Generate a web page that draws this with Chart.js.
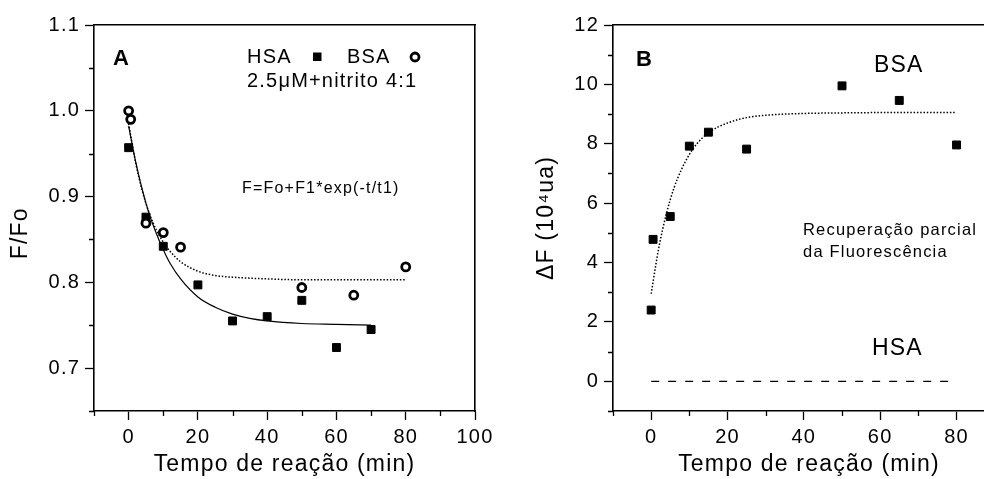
<!DOCTYPE html>
<html><head><meta charset="utf-8">
<script src="https://cdn.jsdelivr.net/npm/chart.js@4/dist/chart.umd.min.js"></script>
<style>
html,body{margin:0;padding:0;background:#fff;overflow:hidden;width:984px;height:479px;position:relative;}
canvas{position:absolute;left:0;top:0;}
</style></head><body>
<canvas id="cA" width="984" height="479"></canvas>
<canvas id="cB" width="1040" height="479"></canvas>
<script>
// ---------- Panel A : F/Fo vs reaction time ----------
const timeHSA_A  = [0, 5, 10, 20, 30, 40, 50, 60, 70];
const ratioHSA_A = [0.957, 0.876, 0.842, 0.797, 0.755, 0.760, 0.779, 0.724, 0.745];
const timeBSA_A  = [0, 0.6, 5, 10, 15, 50, 65, 80];
const ratioBSA_A = [1.000, 0.990, 0.869, 0.858, 0.841, 0.794, 0.785, 0.818];
const fitTimeHSA_A = [0, 2, 4, 6, 8, 10, 12, 15, 20, 25, 30, 35, 40, 50, 60, 70];
const fitHSA_A     = [0.982, 0.941, 0.907, 0.879, 0.857, 0.838, 0.822, 0.804, 0.783, 0.771, 0.763, 0.758, 0.755, 0.752, 0.751, 0.750];
const fitTimeBSA_A = [0, 2, 4, 6, 8, 10, 12, 15, 20, 25, 30, 40, 50, 60, 70, 80];
const fitBSA_A     = [0.985, 0.940, 0.906, 0.880, 0.861, 0.847, 0.836, 0.824, 0.813, 0.808, 0.806, 0.804, 0.803, 0.803, 0.803, 0.803];
const xMajorA = [0, 20, 40, 60, 80, 100];
const xMinorA = [-10, 10, 30, 50, 70, 90];
const yMajorA = [0.7, 0.8, 0.9, 1.0, 1.1];
const yMinorA = [0.65, 0.75, 0.85, 0.95, 1.05];

// ---------- Panel B : ΔF vs reaction time ----------
const timeBSA_B  = [0, 0.5, 5, 10, 15, 25, 50, 65, 80];
const deltaBSA_B = [2.40, 4.78, 5.55, 7.92, 8.39, 7.82, 9.95, 9.46, 7.96];
const fitTimeBSA_B = [0, 2, 4, 6, 8, 10, 12, 15, 20, 25, 30, 40, 50, 60, 70, 80];
const fitBSA_B     = [2.95, 4.50, 5.65, 6.52, 7.15, 7.64, 8.00, 8.37, 8.70, 8.88, 8.96, 9.02, 9.04, 9.05, 9.05, 9.05];
const timeHSA_B  = [0, 80];
const deltaHSA_B = [0, 0];
const xMajorB = [0, 20, 40, 60, 80];
const xMinorB = [-10, 10, 30, 50, 70, 90];
const yMajorB = [0, 2, 4, 6, 8, 10, 12];
const yMinorB = [-1, 1, 3, 5, 7, 9, 11];

// ---------- helpers ----------
const FONT = "'Liberation Sans', Arial, Helvetica, sans-serif";
Chart.defaults.font.family = FONT;
Chart.defaults.color = '#000';
const MAJOR_LEN = 9, MINOR_LEN = 5, SPACING = '1.2px';

const pts = (xs, ys) => xs.map((x, i) => ({x: x, y: ys[i]}));
const near = (list, v) => list.some(m => Math.abs(m - v) < 1e-9);

function mainAxis(c) {
  const all = c.major.concat(c.minor).filter(v => v >= c.min - 1e-9 && v <= c.max + 1e-9).sort((a, b) => a - b);
  const horiz = c.position === 'bottom';
  return {
    type: 'linear', position: c.position, min: c.min, max: c.max,
    afterBuildTicks: ax => { ax.ticks = all.map(v => ({value: v, isMajor: near(c.major, v)})); },
    afterFit: ax => { if (horiz) ax.height = c.size; else ax.width = c.size; },
    grid: {display: true, drawOnChartArea: false, drawTicks: true, tickLength: MAJOR_LEN, tickWidth: 1.3,
      tickColor: ctx => (ctx.tick && ctx.tick.isMajor) ? '#000' : 'rgba(0,0,0,0)', color: '#000', lineWidth: 1},
    border: {display: true, color: '#000', width: 1.6},
    ticks: {autoSkip: false, maxRotation: 0, minRotation: 0, padding: c.tickPad, color: '#000',
      font: {size: 20}, callback: v => near(c.major, v) ? c.fmt(v) : ''},
    title: {display: true, text: c.title, color: '#000', font: {size: 23}, padding: c.titlePad}
  };
}
function frameAxis(position, min, max) {
  const horiz = position === 'top' || position === 'bottom';
  return {
    type: 'linear', position: position, min: min, max: max, display: true,
    afterFit: ax => { if (horiz) ax.height = 0; else ax.width = 0; },
    ticks: {display: false},
    grid: {display: true, drawOnChartArea: false, drawTicks: false},
    border: {display: true, color: '#000', width: 1.6}
  };
}
const spacingPlugin = {id: 'spacing', beforeDraw(chart) { chart.ctx.letterSpacing = SPACING; }};
function minorTicks(xMinor, yMinor) {
  return {id: 'minorTicks', afterDraw(chart) {
    const {ctx, chartArea: a, scales: {x, y}} = chart;
    ctx.save(); ctx.strokeStyle = '#000'; ctx.lineWidth = 1.3; ctx.beginPath();
    xMinor.forEach(v => { if (v < x.min || v > x.max) return;
      const px = Math.round(x.getPixelForValue(v)) + 0.5; ctx.moveTo(px, a.bottom); ctx.lineTo(px, a.bottom + MINOR_LEN); });
    yMinor.forEach(v => { if (v < y.min || v > y.max) return;
      const py = Math.round(y.getPixelForValue(v)) + 0.5; ctx.moveTo(a.left, py); ctx.lineTo(a.left - MINOR_LEN, py); });
    ctx.stroke(); ctx.restore();
  }};
}
function txt(ctx, s, x, y, size, bold) {
  ctx.font = (bold ? 'bold ' : '') + size + 'px ' + FONT;
  ctx.fillText(s, x, y);
}

// ---------- annotations ----------
const annotA = {id: 'annotA', afterDraw(chart) {
  const {ctx, chartArea: a} = chart;
  ctx.save(); ctx.fillStyle = '#000'; ctx.strokeStyle = '#000'; ctx.letterSpacing = SPACING;
  ctx.textAlign = 'left'; ctx.textBaseline = 'alphabetic';
  txt(ctx, 'A', a.left + 19, a.top + 40, 22, true);
  txt(ctx, 'HSA', a.left + 153, a.top + 38, 20);
  ctx.fillRect(a.left + 219, a.top + 27.5, 8.5, 8.5);
  txt(ctx, 'BSA', a.left + 253, a.top + 38, 20);
  ctx.beginPath(); ctx.lineWidth = 2.8; ctx.arc(a.left + 321, a.top + 32, 4, 0, Math.PI * 2); ctx.stroke();
  txt(ctx, '2.5\u03BCM+nitrito 4:1', a.left + 153, a.top + 62, 20);
  txt(ctx, 'F=Fo+F1*exp(-t/t1)', a.left + 148, a.top + 168, 16);
  ctx.restore();
}};
const annotB = {id: 'annotB', afterDraw(chart) {
  const {ctx, chartArea: a} = chart;
  ctx.save(); ctx.fillStyle = '#000'; ctx.letterSpacing = SPACING;
  ctx.textAlign = 'left'; ctx.textBaseline = 'alphabetic';
  txt(ctx, 'B', a.left + 23, a.top + 41, 22, true);
  txt(ctx, 'BSA', a.left + 261, a.top + 47, 23);
  txt(ctx, 'Recupera\u00E7\u00E3o parcial', a.left + 190, a.top + 210, 16.5);
  txt(ctx, 'da Fluoresc\u00EAncia', a.left + 190, a.top + 232, 16.5);
  txt(ctx, 'HSA', a.left + 259, a.top + 330, 23);
  ctx.restore();
}};

const common = {responsive: false, animation: false, events: [],
  plugins: {legend: {display: false}, tooltip: {enabled: false}}};

// ---------- Chart A ----------
new Chart(document.getElementById('cA'), {
  type: 'scatter',
  data: {datasets: [
    {label: 'BSA', data: pts(timeBSA_A, ratioBSA_A), pointStyle: 'circle', pointRadius: 4, pointBorderWidth: 2.8,
      backgroundColor: '#fff', borderColor: '#000', order: 0},
    {label: 'HSA', data: pts(timeHSA_A, ratioHSA_A), pointStyle: 'rect', pointRadius: 5.6, pointBorderWidth: 1,
      backgroundColor: '#000', borderColor: '#000', order: 1},
    {label: 'ajuste HSA', data: pts(fitTimeHSA_A, fitHSA_A), showLine: true, pointRadius: 0, borderColor: '#000',
      borderWidth: 1.2, cubicInterpolationMode: 'monotone', order: 2},
    {label: 'ajuste BSA', data: pts(fitTimeBSA_A, fitBSA_A), showLine: true, pointRadius: 0, borderColor: '#000',
      borderWidth: 1.5, borderDash: [1.5, 1.8], cubicInterpolationMode: 'monotone', order: 3}
  ]},
  options: Object.assign({}, common, {
    layout: {padding: {left: 0, top: 25, right: 509, bottom: 0}},
    scales: {
      x: mainAxis({position: 'bottom', min: -10, max: 100, major: xMajorA, minor: xMinorA, fmt: v => String(v),
        size: 68, tickPad: 5, title: 'Tempo de rea\u00E7\u00E3o (min)', titlePad: {top: 0, bottom: 1}}),
      y: mainAxis({position: 'left', min: 0.65, max: 1.1, major: yMajorA, minor: yMinorA, fmt: v => v.toFixed(1),
        size: 94, tickPad: 5, title: 'F/Fo    ', titlePad: {top: 7, bottom: 0}}),
      xTop: frameAxis('top', -10, 100),
      yRight: frameAxis('right', 0.65, 1.1)
    }
  }),
  plugins: [spacingPlugin, minorTicks(xMinorA, yMinorA), annotA]
});

// ---------- Chart B ----------
new Chart(document.getElementById('cB'), {
  type: 'scatter',
  data: {datasets: [
    {label: 'BSA', data: pts(timeBSA_B, deltaBSA_B), pointStyle: 'rect', pointRadius: 5.6, pointBorderWidth: 1,
      backgroundColor: '#000', borderColor: '#000', order: 0},
    {label: 'ajuste BSA', data: pts(fitTimeBSA_B, fitBSA_B), showLine: true, pointRadius: 0, borderColor: '#000',
      borderWidth: 1.5, borderDash: [1.5, 1.8], cubicInterpolationMode: 'monotone', order: 1},
    {label: 'HSA', data: pts(timeHSA_B, deltaHSA_B), showLine: true, pointRadius: 0, borderColor: '#000',
      borderWidth: 1.3, borderDash: [8, 9], order: 2}
  ]},
  options: Object.assign({}, common, {
    layout: {padding: {left: 490, top: 25, right: 35, bottom: 0}},
    scales: {
      x: mainAxis({position: 'bottom', min: -10, max: 92.7, major: xMajorB, minor: xMinorB, fmt: v => String(v),
        size: 68, tickPad: 5, title: 'Tempo de rea\u00E7\u00E3o (min)', titlePad: {top: 0, bottom: 1}}),
      y: mainAxis({position: 'left', min: -1, max: 12, major: yMajorB, minor: yMinorB, fmt: v => String(v),
        size: 123, tickPad: 5, title: '\u0394F (10\u2074ua)', titlePad: {top: 43, bottom: 0}}),
      xTop: frameAxis('top', -10, 92.7),
      yRight: frameAxis('right', -1, 12)
    }
  }),
  plugins: [spacingPlugin, minorTicks(xMinorB, yMinorB), annotB]
});
</script>
</body></html>
